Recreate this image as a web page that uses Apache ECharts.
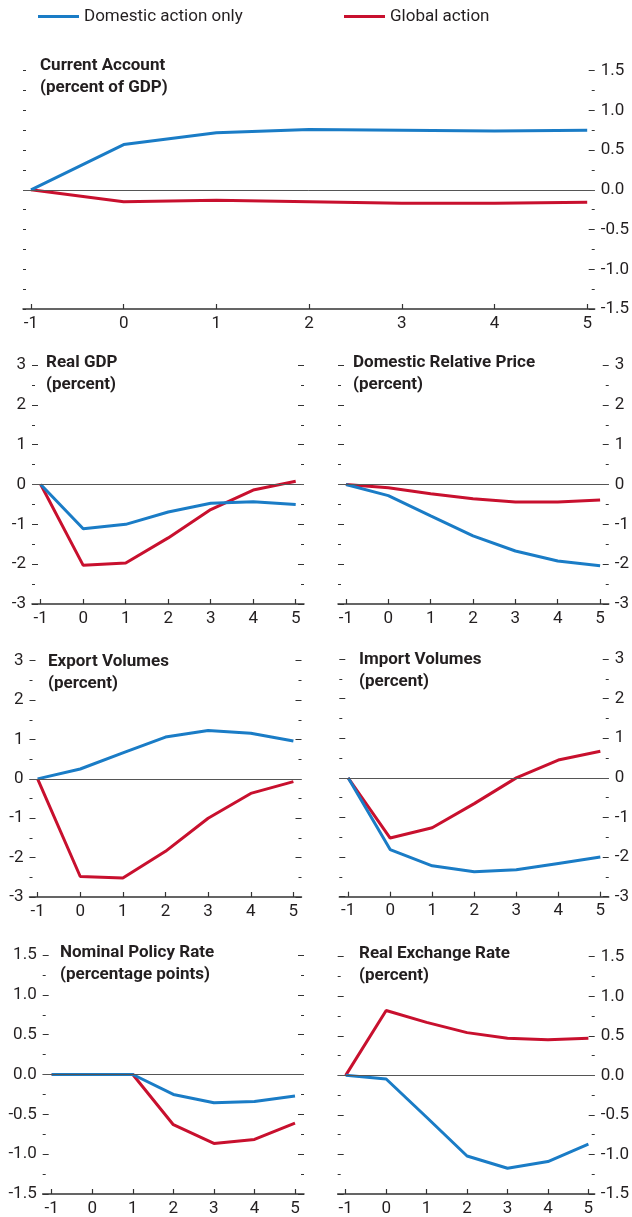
<!DOCTYPE html>
<html>
<head>
<meta charset="utf-8">
<script src="https://cdn.jsdelivr.net/npm/echarts@6/dist/echarts.min.js"></script>
<style>
  html, body { margin: 0; padding: 0; background: #fff; }
  #main { width: 632px; height: 1217px; }
</style>
</head>
<body>
<div id="main"></div>
<script>
var myChart = echarts.init(document.getElementById('main'));

// 年份（冲击前一年到冲击后五年）
var years = [-1, 0, 1, 2, 3, 4, 5];

// 经常账户 (percent of GDP)
var caDomestic = [0, 0.57, 0.72, 0.76, 0.75, 0.74, 0.75];
var caGlobal   = [0, -0.15, -0.13, -0.15, -0.17, -0.17, -0.155];
// 实际GDP
var gdpDomestic = [0, -1.11, -1.0, -0.69, -0.47, -0.43, -0.50];
var gdpGlobal   = [0, -2.03, -1.97, -1.34, -0.63, -0.14, 0.08];
// 国内相对价格
var priceDomestic = [0, -0.28, -0.79, -1.29, -1.67, -1.92, -2.04];
var priceGlobal   = [0, -0.08, -0.23, -0.36, -0.44, -0.44, -0.39];
// 出口量
var exportDomestic = [0, 0.25, 0.66, 1.06, 1.23, 1.16, 0.96];
var exportGlobal   = [0, -2.48, -2.52, -1.84, -1.0, -0.37, -0.07];
// 进口量
var importDomestic = [0, -1.81, -2.22, -2.37, -2.32, -2.16, -2.0];
var importGlobal   = [0, -1.52, -1.26, -0.65, 0.0, 0.45, 0.67];
// 名义政策利率
var rateDomestic = [0, 0, 0, -0.25, -0.355, -0.34, -0.27];
var rateGlobal   = [0, 0, 0, -0.63, -0.865, -0.815, -0.61];
// 实际汇率
var rerDomestic = [0, -0.046, -0.53, -1.02, -1.175, -1.09, -0.87];
var rerGlobal   = [0, 0.82, 0.67, 0.54, 0.47, 0.45, 0.47];

var BLUE = '#1a7cc6';
var RED = '#c8102e';
var AXIS = '#333';
var TEXT = '#231f20';
var FONT = 'Roboto, "Liberation Sans", sans-serif';
var NAME_D = 'Domestic action only';
var NAME_G = 'Global action';

// 面板布局：网格左右边界（即x轴线范围）、上下（y轴最大/最小值位置）、x轴范围
var panels = [
    { title: 'Current Account\n(percent of GDP)', tx: 40, ty: 55,
      l: 23, r: 597, t: 70.7, b: 309, xmin: -1.086, xmax: 5.081,
      ymax: 1.5, step: 0.5, labelSide: 'right', leftAll: true,
      d: caDomestic, g: caGlobal },
    { title: 'Real GDP\n(percent)', tx: 46, ty: 352,
      l: 32, r: 304, t: 365, b: 604, xmin: -1.205, xmax: 5.195,
      ymax: 3, step: 1, labelSide: 'left',
      d: gdpDomestic, g: gdpGlobal },
    { title: 'Domestic Relative Price\n(percent)', tx: 353, ty: 352,
      l: 338, r: 610, t: 365, b: 604, xmin: -1.188, xmax: 5.204,
      ymax: 3, step: 1, labelSide: 'right',
      d: priceDomestic, g: priceGlobal },
    { title: 'Export Volumes\n(percent)', tx: 48, ty: 651,
      l: 29.5, r: 301.5, t: 660.7, b: 897, xmin: -1.19, xmax: 5.19,
      ymax: 3, step: 1, labelSide: 'left',
      d: exportDomestic, g: exportGlobal },
    { title: 'Import Volumes\n(percent)', tx: 359, ty: 649,
      l: 339.3, r: 611.7, t: 659, b: 896.7, xmin: -1.21, xmax: 5.2,
      ymax: 3, step: 1, labelSide: 'right',
      d: importDomestic, g: importGlobal },
    { title: 'Nominal Policy Rate\n(percentage points)', tx: 60, ty: 942,
      l: 42.7, r: 304, t: 955, b: 1194.3, xmin: -1.222, xmax: 5.222,
      ymax: 1.5, step: 0.5, labelSide: 'left',
      d: rateDomestic, g: rateGlobal },
    { title: 'Real Exchange Rate\n(percent)', tx: 359, ty: 943,
      l: 337.7, r: 595, t: 956.7, b: 1194, xmin: -1.198, xmax: 5.156,
      ymax: 1.5, step: 0.5, labelSide: 'right',
      d: rerDomestic, g: rerGlobal }
];

function fmt(p) {
    return function (v) {
        return p.step < 1 ? v.toFixed(1) : String(Math.round(v));
    };
}

var grid = [], xAxis = [], yAxis = [], series = [], title = [];

panels.forEach(function (p, i) {
    grid.push({ left: p.l, top: p.t, width: p.r - p.l, height: p.b - p.t });
    title.push({
        text: p.title, left: p.tx, top: p.ty, padding: 0,
        textStyle: { fontFamily: FONT, fontSize: 17, fontWeight: 'bold', color: TEXT, lineHeight: 22 }
    });
    xAxis.push({
        type: 'value', gridIndex: i, min: p.xmin, max: p.xmax,
        splitLine: { show: false },
        axisLine: { show: true, onZero: false, lineStyle: { color: AXIS, width: 1.5 } },
        axisTick: { show: true, inside: true, length: 5, customValues: years, lineStyle: { color: AXIS, width: 1.2 } },
        axisLabel: { customValues: years, margin: 6, fontFamily: FONT, fontSize: 17, color: TEXT }
    });
    var common = {
        type: 'value', gridIndex: i, min: -p.ymax, max: p.ymax, interval: p.step,
        splitLine: { show: false },
        axisLine: { show: false, onZero: false }
    };
    var labelled = p.labelSide;
    var other = labelled === 'left' ? 'right' : 'left';
    yAxis.push(Object.assign({}, common, {
        position: labelled,
        axisTick: { show: true, inside: true, length: 6, lineStyle: { color: AXIS, width: 1 } },
        minorTick: { show: true, splitNumber: 2, length: 3, lineStyle: { color: AXIS, width: 1 } },
        axisLabel: { show: true, margin: 6, formatter: fmt(p), fontFamily: FONT, fontSize: 17, color: TEXT }
    }));
    yAxis.push(Object.assign({}, common, {
        position: other,
        axisTick: { show: true, inside: true, length: p.leftAll ? 3 : 6, lineStyle: { color: AXIS, width: 1 } },
        minorTick: { show: true, splitNumber: 2, length: 3, lineStyle: { color: AXIS, width: 1 } },
        axisLabel: { show: false }
    }));
    var yi = yAxis.length - 2;
    series.push({
        name: NAME_D, type: 'line', xAxisIndex: i, yAxisIndex: yi,
        data: years.map(function (x, k) { return [x, p.d[k]]; }),
        showSymbol: false, lineStyle: { color: BLUE, width: 3 }, itemStyle: { color: BLUE },
        z: 3,
        markLine: {
            silent: true, symbol: 'none', label: { show: false },
            lineStyle: { color: '#555', width: 1, type: 'solid' },
            data: [{ yAxis: 0 }]
        }
    });
    series.push({
        name: NAME_G, type: 'line', xAxisIndex: i, yAxisIndex: yi,
        data: years.map(function (x, k) { return [x, p.g[k]]; }),
        showSymbol: false, lineStyle: { color: RED, width: 3 }, itemStyle: { color: RED },
        z: 2
    });
});

var legendText = { fontFamily: FONT, fontSize: 17, color: TEXT };
option = {
    animation: false,
    title: title,
    legend: [
        { data: [NAME_D], left: 38, top: 8, icon: 'rect', itemWidth: 41, itemHeight: 3, itemGap: 6, textStyle: legendText, padding: 0 },
        { data: [NAME_G], left: 344, top: 8, icon: 'rect', itemWidth: 41, itemHeight: 3, itemGap: 6, textStyle: legendText, padding: 0 }
    ],
    grid: grid,
    xAxis: xAxis,
    yAxis: yAxis,
    series: series
};
myChart.setOption(option);
</script>
</body>
</html>
